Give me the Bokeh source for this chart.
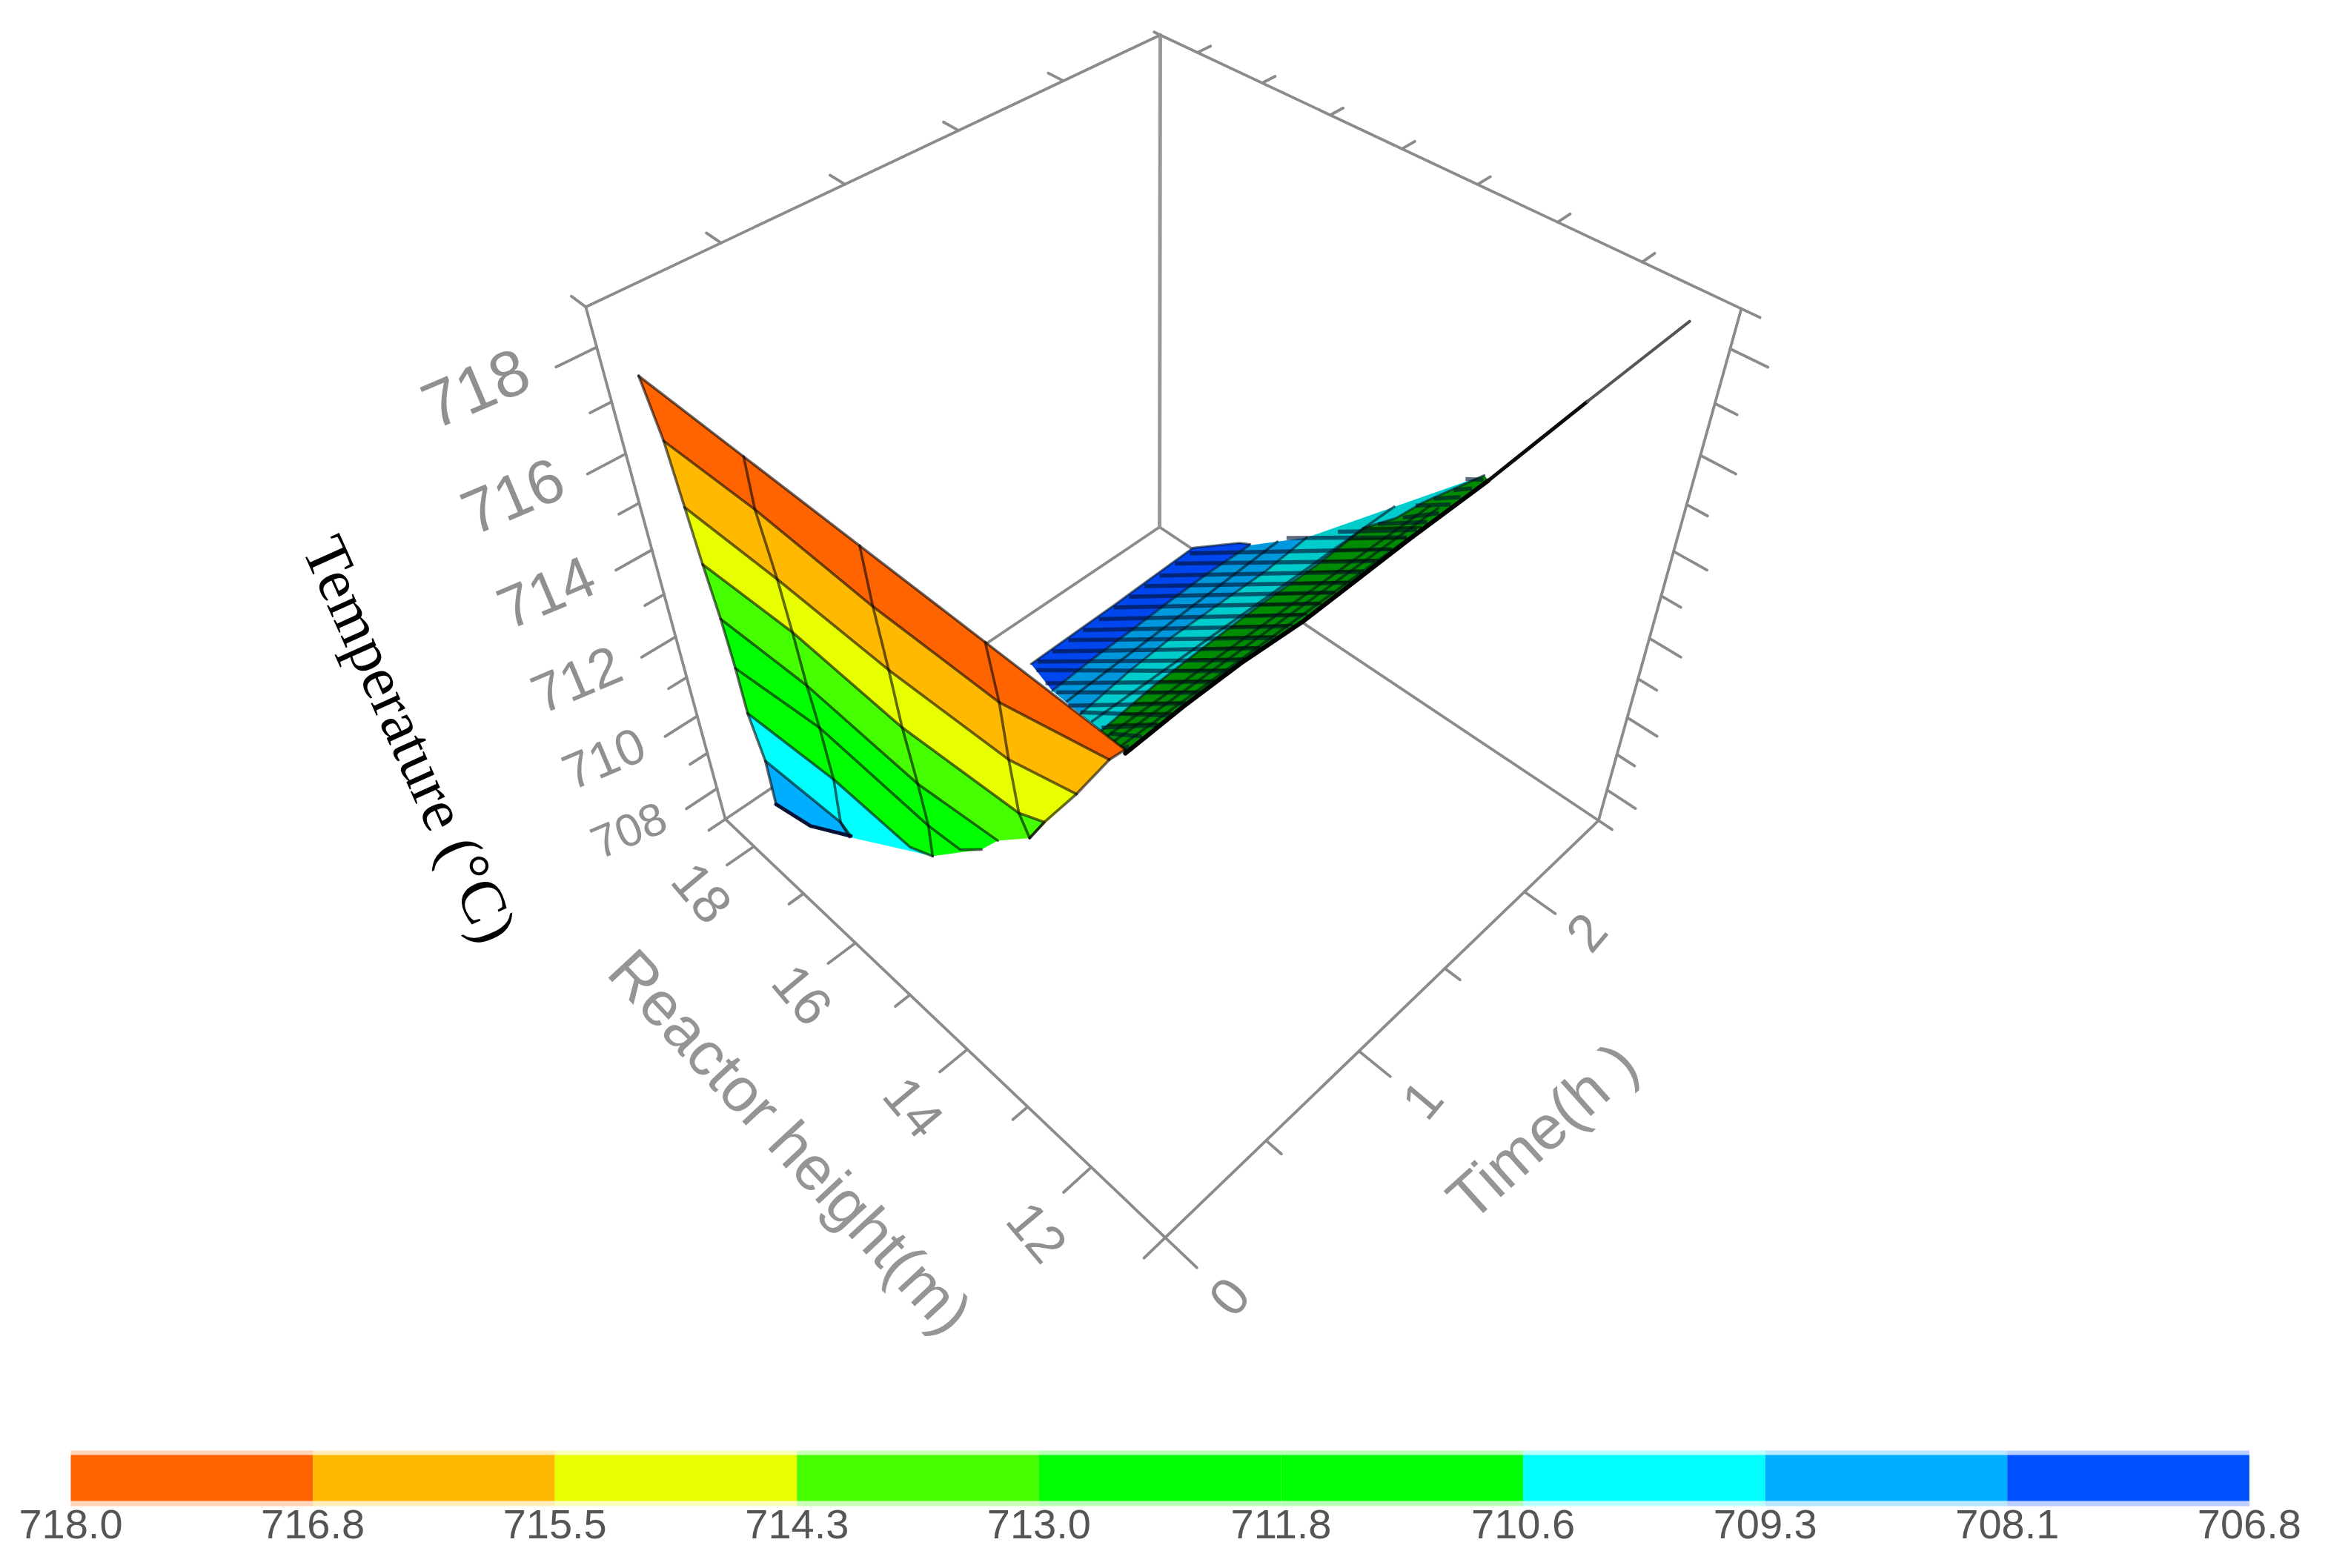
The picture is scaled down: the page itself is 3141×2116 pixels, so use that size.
import numpy as np
from bokeh.plotting import figure
from bokeh.models import Range1d
from bokeh.core.properties import value
from bokeh.embed import file_html
from bokeh.resources import INLINE

# ---- axis extents (values) ----
HEIGHT_MIN, HEIGHT_MAX = 10.9, 18.6
TIME_MAX = 2.5
TEMP_MIN, TEMP_MAX = 707.1, 718.7
# camera calibration: box corners (height, time, temp) and where they fall on the page
CAMERA = [((HEIGHT_MAX, 0, TEMP_MIN), (977, 1103)), ((HEIGHT_MIN, 0, TEMP_MIN), (1572, 1671)),
          ((HEIGHT_MIN, TIME_MAX, TEMP_MIN), (2156, 1105)), ((HEIGHT_MAX, TIME_MAX, TEMP_MIN), (1565, 713)),
          ((HEIGHT_MAX, 0, TEMP_MAX), (791, 415)), ((HEIGHT_MAX, TIME_MAX, TEMP_MAX), (1564, 45)),
          ((HEIGHT_MIN, TIME_MAX, TEMP_MAX), (2349, 417))]

# ---- colour scale ----
BAR_LABELS = ["718.0", "716.8", "715.5", "714.3", "713.0", "711.8", "710.6", "709.3", "708.1", "706.8"]
BAR_COLORS = ["#ff6400", "#ffb900", "#e8ff00", "#46ff00", "#00ff00", "#00ff00", "#00ffff", "#00aeff", "#0050ff"]

# ---- steep face of the surface: iso-temperature rows ----
ROW_TEMP = [718, 716.8, 715.5, 714.3, 713, 711.8, 710.6, 709.3, 708.1]
ROW_H = [[17.93, 16.26, 14.6, 12.99, 11.39], [17.88, 16.43, 14.64, 13.0, 11.9], [17.85, 16.34, 14.64, 13.06, 12.36],
         [17.83, 16.37, 14.61, 13.06, 12.82, 12.78], [17.85, 16.41, 14.58, 13.5], [17.85, 16.49, 14.64, 14.18, 14.03],
         [17.88, 16.41, 15.09, 14.83], [17.85, 16.5, 16.26], [17.84, 17.28, 16.82]]
ROW_T = [[0.01, 0.01, 0.01, 0.01, 0.01], [0.03, 0.04, 0.03, 0.04, 0.11], [0.04, 0.05, 0.05, 0.07, 0.12],
         [0.05, 0.07, 0.06, 0.09, 0.12, 0.05], [0.07, 0.09, 0.08, 0.11], [0.08, 0.12, 0.11, 0.12, 0.17],
         [0.09, 0.12, 0.12, 0.15], [0.11, 0.13, 0.11], [0.11, 0.14, 0.22]]

# ---- long shallow part of the surface: iso-temperature edges ----
EDGE_TEMP = [706.8, 708.1, 709.3, 710.6, 713]
EDGE_COLORS = ["#0046ee", "#0098dc", "#00cccc", "#008c00"]
EDGE_H = [[18.03, 18.04, 18.05, 18.07, 18.09, 17.68, 17.55], [16.85, 16.89, 16.91, 16.94, 16.95, 16.93],
          [15.77, 15.86, 15.9, 15.89, 15.88, 15.93], [14.84, 14.91, 14.93, 14.94, 14.92, 14.95, 14.78, 14.73, 14.5],
          [13.42, 13.45, 13.45, 13.4, 13.41, 13.42, 13.41]]
EDGE_T = [[1.5, 1.76, 2.03, 2.27, 2.56, 2.74, 2.77], [1.29, 1.51, 1.78, 2.03, 2.27, 2.53],
          [1.13, 1.43, 1.68, 1.96, 2.25, 2.53], [0.96, 1.27, 1.56, 1.86, 2.2, 2.5, 2.64, 2.79, 3.12],
          [0.64, 0.92, 1.2, 1.5, 1.81, 2.11, 2.57]]
TIP_H = [13.41, 13.46, 13.5]
TIP_T = [2.57, 3.24, 4.0]
TIP_TEMP = 713

HATCH_H = [[13.7, 13.46], [14.4, 13.46], [15.0, 13.46], [15.7, 13.46], [16.2, 13.48], [16.7, 13.48], [17.2, 13.48], [17.7, 13.48],
           [18.0, 13.46], [18.0, 13.46], [18.0, 13.46], [18.0, 13.46], [18.0, 13.46], [18.02, 13.46], [18.02, 13.46],
           [18.02, 13.46], [18.02, 13.46], [18.04, 13.46], [18.04, 13.46], [16.3, 13.46], [15.4, 13.46], [14.7, 13.46],
           [14.3, 13.46], [14.2, 13.46], [14.0, 13.46], [13.8, 13.46], [13.7, 13.46]]
HATCH_T = [[0.71, 0.67], [0.87, 0.73], [1.01, 0.8], [1.11, 0.86], [1.19, 0.93], [1.27, 1.0], [1.35, 1.07], [1.44, 1.14],
           [1.53, 1.22], [1.62, 1.3], [1.72, 1.37], [1.81, 1.45], [1.91, 1.53], [2.01, 1.61], [2.11, 1.69], [2.21, 1.76],
           [2.31, 1.84], [2.42, 1.92], [2.52, 2.01], [2.54, 2.1], [2.52, 2.16], [2.48, 2.22], [2.46, 2.29], [2.49, 2.36],
           [2.51, 2.42], [2.54, 2.49], [2.56, 2.56]]
HATCH_Z = [712.5, 711.4, 710.3, 709.5, 708.8, 708.3, 707.7, 707.2, 706.8, 706.8, 706.8, 706.8, 706.8, 706.8, 706.8, 706.8,
           706.8, 706.8, 706.8, 708.9, 710.0, 711.0, 711.6, 711.9, 712.2, 712.5, 712.8]
HATCH2_H = [[14.85, 13.47], [14.87, 13.47], [14.88, 13.47], [14.9, 13.47], [14.91, 13.47], [14.92, 13.47], [14.92, 13.47],
            [14.93, 13.46], [14.93, 13.45], [14.94, 13.44], [14.94, 13.44], [14.95, 13.44], [14.94, 13.44], [14.93, 13.44],
            [14.93, 13.45], [14.92, 13.45], [14.93, 13.45], [14.95, 13.45], [14.96, 13.45]]
HATCH2_T = [[0.995, 0.807], [1.067, 0.873], [1.139, 0.94], [1.212, 1.01], [1.287, 1.081], [1.365, 1.153], [1.445, 1.227],
            [1.526, 1.306], [1.607, 1.385], [1.69, 1.465], [1.774, 1.542], [1.858, 1.618], [1.948, 1.695], [2.039, 1.773],
            [2.131, 1.853], [2.223, 1.934], [2.311, 2.015], [2.401, 2.098], [2.492, 2.183]]
HATCH2_Z = [710.6, 713]
INNER_H = [[16.31, 16.43], [15.3, 15.22], [14.48, 14.37], [14.12, 14.02], [13.77, 13.67]]
INNER_T = [[1.211, 2.536], [1.048, 2.83], [0.882, 2.679], [0.802, 2.569], [0.721, 2.458]]
INNER_Z = [708.7, 709.95, 711.2, 711.8, 712.4]

# ---- ticks ----
TEMP_MAJOR = [708, 710, 712, 714, 716, 718]
TEMP_MINOR = [709, 711, 713, 715, 717]
HEIGHT_MAJOR = [12, 14, 16, 18]
HEIGHT_MINOR = [13, 15, 17]
TIME_MAJOR = [0, 1, 2]
TIME_MINOR = [0.5, 1.5]
TEMP_TICK_LABELS = ["708", "710", "712", "714", "716", "718"]
HEIGHT_TICK_LABELS = ["12", "14", "16", "18"]
TIME_TICK_LABELS = ["0", "1", "2"]

# ---- projection ----
A, b = [], []
for (X, Y, Z), (u, v) in CAMERA:
    A.append([X, Y, Z, 1, 0, 0, 0, 0, -u * X, -u * Y, -u * Z]); b.append(u)
    A.append([0, 0, 0, 0, X, Y, Z, 1, -v * X, -v * Y, -v * Z]); b.append(v)
P = np.append(np.linalg.lstsq(np.array(A, float), np.array(b, float), rcond=None)[0], 1).reshape(3, 4)

def proj(h, t, z):
    w = P @ np.array([h, t, z, 1.0])
    return float(w[0] / w[2]), float(w[1] / w[2])

def path(hs, ts, zs):
    if np.isscalar(zs):
        zs = [zs] * len(hs)
    pts = [proj(h, t, z) for h, t, z in zip(hs, ts, zs)]
    return [q[0] for q in pts], [q[1] for q in pts]

p = figure(width=3141, height=2116, x_range=Range1d(0, 3141), y_range=Range1d(2116, 0),
           output_backend="svg", toolbar_location=None, min_border=0, outline_line_color=None,
           background_fill_color="white", border_fill_color="white")
p.axis.visible = False
p.grid.visible = False

AX = "#8b8b8b"
def segs(lst, color=AX, width=3.8, alpha=1.0, cap="round"):
    xs = [path(*s)[0] for s in lst]
    ys = [path(*s)[1] for s in lst]
    p.multi_line(xs, ys, line_color=color, line_width=width, line_alpha=alpha, line_cap=cap, line_join="round")

# box
H0, H1, T1, Z0, Z1 = HEIGHT_MIN, HEIGHT_MAX, TIME_MAX, TEMP_MIN, TEMP_MAX
box = [([H1, H0], [0, 0], [Z0, Z0]), ([H0, H0], [0, T1], [Z0, Z0]), ([H1, H1], [0, T1], [Z0, Z0]), ([H0, H1], [T1, T1], [Z0, Z0]),
       ([H1, H1], [0, 0], [Z0, Z1]), ([H0, H0], [T1, T1], [Z0, Z1]),
       ([H1, H1], [0, T1], [Z1, Z1]), ([H1, H0], [T1, T1], [Z1, Z1])]
segs(box)
segs([([H1, H1], [T1, T1], [Z0, Z1])], color="#979797", width=5)

ticks = []
for z in TEMP_MAJOR:
    ticks.append(([H1, H1], [0, -0.145], [z, z]))
    ticks.append(([H0, H0 - 0.41], [T1, T1], [z, z]))
for z in TEMP_MINOR:
    ticks.append(([H1, H1], [0, -0.08], [z, z]))
    ticks.append(([H0, H0 - 0.25], [T1, T1], [z, z]))
for h in HEIGHT_MAJOR:
    ticks.append(([h, h], [0, -0.13], [Z0, Z0]))
    ticks.append(([h, h], [T1, T1 + 0.07], [Z1, Z1]))
for h in HEIGHT_MINOR:
    ticks.append(([h, h], [0, -0.07], [Z0, Z0]))
    ticks.append(([h, h], [T1, T1 + 0.07], [Z1, Z1]))
for t in TIME_MAJOR:
    ticks.append(([H0, H0 - 0.45], [t, t], [Z0, Z0]))
    ticks.append(([H1, H1 + 0.25], [t, t], [Z1, Z1]))
for t in TIME_MINOR:
    ticks.append(([H0, H0 - 0.22], [t, t], [Z0, Z0]))
    ticks.append(([H1, H1 + 0.25], [t, t], [Z1, Z1]))
ticks += [([H0, H0], [0, -0.1], [Z0, Z0]), ([H1, H1], [0, -0.08], [Z0, Z0]), ([H0, H0 - 0.2], [T1, T1], [Z0, Z0]),
          ([H1, H1 + 0.1], [T1, T1], [Z1, Z1]), ([H0, H0 - 0.2], [T1, T1], [Z1, Z1])]
segs(ticks)

# shallow part
bx, by = [], []
for i, col_ in enumerate(EDGE_COLORS):
    xa, ya = path(EDGE_H[i], EDGE_T[i], EDGE_TEMP[i])
    xb, yb = path(EDGE_H[i + 1], EDGE_T[i + 1], EDGE_TEMP[i + 1])
    bx.append(xa + xb[::-1]); by.append(ya + yb[::-1])
p.patches(bx, by, fill_color=EDGE_COLORS, line_color=None)

lines = [(h, t, [z, TIP_TEMP]) for h, t, z in zip(HATCH_H, HATCH_T, HATCH_Z)]
segs(lines, color="#001030", width=5.5, alpha=0.62, cap="butt")
segs([(h, t, HATCH2_Z) for h, t in zip(HATCH2_H, HATCH2_T)], color="#002000", width=3.5, alpha=0.72, cap="butt")
segs([(h, t, [z, z]) for h, t, z in zip(INNER_H, INNER_T, INNER_Z)], color="#001018", width=3.5, alpha=0.6, cap="butt")
segs([(EDGE_H[i], EDGE_T[i], [EDGE_TEMP[i]] * len(EDGE_H[i])) for i in range(0, 4)], color="#001020", width=3, alpha=0.6)
segs([(EDGE_H[4], EDGE_T[4], [TIP_TEMP] * len(EDGE_H[4]))], color="#000000", width=6)
segs([(TIP_H[:2], TIP_T[:2], [TIP_TEMP] * 2)], color="#0a0a0a", width=5)
segs([(TIP_H[1:], TIP_T[1:], [TIP_TEMP] * 2)], color="#555555", width=4)

# steep face: bottom band first, so upper bands overlap
fx, fy, fc = [], [], []
for i in range(len(ROW_TEMP) - 2, -1, -1):
    xa, ya = path(ROW_H[i], ROW_T[i], ROW_TEMP[i])
    xb, yb = path(ROW_H[i + 1], ROW_T[i + 1], ROW_TEMP[i + 1])
    fx.append(xa + xb[::-1]); fy.append(ya + yb[::-1]); fc.append(BAR_COLORS[i])
p.patches(fx, fy, fill_color=fc, line_color=None)
rows = [(ROW_H[i], ROW_T[i], [ROW_TEMP[i]] * len(ROW_H[i])) for i in range(len(ROW_TEMP))]
segs(rows, color="#000000", width=3.6, alpha=0.58)
def col(spec):
    return ([ROW_H[i][j] for i, j in spec], [ROW_T[i][j] for i, j in spec], [ROW_TEMP[i] for i, j in spec])
columns = [col([(i, 0) for i in range(9)]),
           col([(i, 1) for i in range(8)] + [(8, 2)]),
           col([(i, 2) for i in range(6)] + [(6, 3)]),
           col([(i, 3) for i in range(4)] + [(3, 5)]),
           col([(i, 4) for i in range(4)] + [(3, 5)])]
segs(columns, color="#000000", width=3.6, alpha=0.58)
segs([rows[8]], color="#000a30", width=5, alpha=0.9)

# tick labels
def lab(x, y, txt, size, angle, color="#868686", font="Liberation Sans", align="center"):
    p.text([x], [y], text=[txt], text_font=value(font), text_font_size=value(f"{size}px"), text_color=color,
           angle=angle, angle_units="deg", text_align=align, text_baseline="middle")

for z, t, s in zip(TEMP_MAJOR, TEMP_TICK_LABELS, [62, 68, 74, 80, 84, 88]):
    x, y = proj(H1, -0.45, z)
    lab(x + 12, y - 30, t, s, 23, color="#909090")
for h, t in zip(HEIGHT_MAJOR, HEIGHT_TICK_LABELS):
    x, y = proj(h, -0.36, Z0)
    lab(x + 32, y - 8, t, 72, -50, color="#909090")
for tm, t in zip(TIME_MAJOR, TIME_TICK_LABELS):
    x, y = proj(H0 - 1.0, tm, Z0)
    lab(x - 10, y - 12, t, 72, 50, color="#909090")

lab(1066, 1540, "Reactor height(m)", 84, -47, color="#959595")
lab(2080, 1526, "Time(h )", 84, 42, color="#959595")
lab(553, 997, "Temperature (°C)", 84, -65.8, color="#000000", font="Liberation Serif")

# colour bar, on its own index scale
p.extra_x_ranges["bar"] = Range1d(-95 / 326.6, (3141 - 95) / 326.6)
idx = list(range(len(BAR_COLORS)))
p.quad(left=idx, right=[i + 1 for i in idx], top=[1957] * 9, bottom=[2032] * 9, fill_color=BAR_COLORS, fill_alpha=0.28,
       line_color=None, x_range_name="bar")
p.quad(left=idx, right=[i + 1 for i in idx], top=[1963] * 9, bottom=[2025] * 9, fill_color=BAR_COLORS, line_color=None,
       x_range_name="bar")
p.text(x=list(range(len(BAR_LABELS))), y=[2056] * len(BAR_LABELS), text=BAR_LABELS, x_range_name="bar",
       text_font=value("Liberation Sans"), text_font_size=value("56px"), text_color="#555555",
       text_align="center", text_baseline="middle")

open("out.html", "w").write(file_html(p, INLINE))
